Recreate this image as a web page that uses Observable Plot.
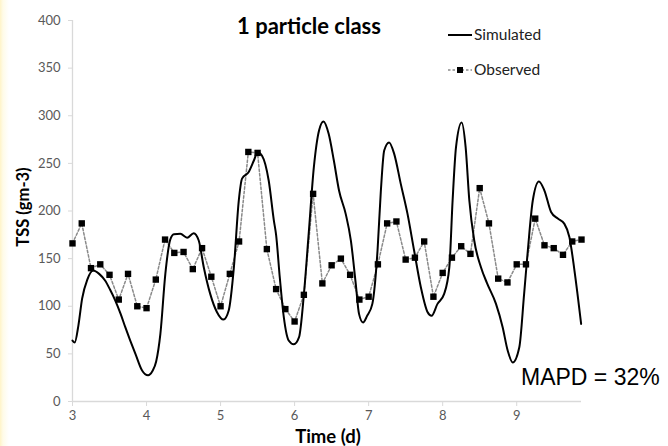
<!DOCTYPE html>
<html>
<head>
<meta charset="utf-8">
<script src="https://cdn.jsdelivr.net/npm/d3@7"></script>
<script src="https://cdn.jsdelivr.net/npm/@observablehq/plot@0.6"></script>
<style>
  html, body { margin: 0; padding: 0; }
  body {
    width: 668px; height: 446px; overflow: hidden;
    background: linear-gradient(to right, #fff4c8 0px, #fffbe8 3px, #ffffff 9px);
  }
  #chart { position: relative; width: 668px; height: 446px; }
  #chart svg { position: absolute; left: 0; top: 0; background: transparent; }
</style>
</head>
<body>
<div id="chart"></div>
<script>
// ---- data ----
const observedTime = [3.0,3.125,3.25,3.375,3.5,3.625,3.75,3.875,4.0,4.125,4.25,4.375,4.5,4.625,4.75,4.875,
  5.0,5.125,5.25,5.375,5.5,5.625,5.75,5.875,6.0,6.125,6.25,6.375,6.5,6.625,6.75,6.875,
  7.0,7.125,7.25,7.375,7.5,7.625,7.75,7.875,8.0,8.125,8.25,8.375,8.5,8.625,8.75,8.875,
  9.0,9.125,9.25,9.375,9.5,9.625,9.75,9.875];
const observedTSS = [166,187,140,144,133,107,134,100,98,128,170,156,157,139,161,131,
  100,134,168,262,261,160,118,97,84,112,218,124,143,150,133,107,
  110,144,187,189,149,151,168,110,135,151,163,155,224,187,129,125,
  144,144,192,164,161,154,168,170];

const simulatedTime = [3.0,3.03,3.08,3.13,3.2,3.28,3.36,3.44,3.51,3.578,3.65,3.713,3.78,3.85,3.94,4.02,4.08,4.13,4.187,4.254,
  4.32,4.37,4.457,4.548,4.637,4.705,4.773,4.86,4.95,5.04,5.11,5.18,5.246,5.29,5.38,5.45,5.5,5.56,5.65,5.72,
  5.75,5.8,5.855,5.92,5.99,6.06,6.126,6.19,6.26,6.33,6.39,6.46,6.53,6.6,6.69,6.76,6.826,6.87,6.924,6.98,
  7.05,7.12,7.164,7.21,7.276,7.345,7.434,7.525,7.614,7.705,7.795,7.85,7.93,8.02,8.09,8.134,8.18,8.256,8.31,8.36,
  8.426,8.517,8.6,8.72,8.81,8.878,8.946,9.035,9.1,9.15,9.217,9.3,9.374,9.464,9.555,9.644,9.712,9.78,9.87];
const simulatedTSS = [64,62,80,108,128,137.5,134,127,117,106,92,78,64,50,32.5,27.5,32,42,71,134,
  170,175.5,176,172,176.7,169,141,113,94,86,95.5,141,211,234,241,253,261.7,258,232,190,
  175,130,88,64,60,67.5,113,176,246,284.5,294,281,253,221.5,197,169,123.5,92,83,90,
  102.5,158.5,220,263.5,272,260,228.5,197,158.5,120,94,90,102.5,113,141,211,267,293,267,211,
  169,141,124,102.5,78,53.5,41,57,113,158.5,211,231,221.5,199,192,186.5,172.5,137.5,81.5];

const xTicks = [3,4,5,6,7,8,9];
const yTicks = [0,50,100,150,200,250,300,350,400];
const titleText = "1 particle class";
const xLabel = "Time (d)";
const yLabel = "TSS (gm-3)";
const legendItems = ["Simulated", "Observed"];
const annotation = "MAPD = 32%";

// ---- build ----
const observed = observedTime.map((t, i) => ({t, v: observedTSS[i]}));
const simulated = simulatedTime.map((t, i) => ({t, v: simulatedTSS[i]}));

const tickFont = "Lato, 'Open Sans', sans-serif";

const plot = Plot.plot({
  width: 668,
  height: 446,
  marginLeft: 72,
  marginRight: 87,
  marginTop: 20,
  marginBottom: 45,
  style: {fontFamily: tickFont, fontSize: "13px", color: "#595959", background: "transparent", overflow: "visible"},
  x: {domain: [3, 9.875], ticks: xTicks, tickSize: 5, tickPadding: 4, label: null, tickFormat: d3.format("d")},
  y: {domain: [0, 400], ticks: yTicks, tickSize: 4, tickPadding: 8, label: null},
  marks: [
    Plot.ruleX([3], {stroke: "#d9d9d9", strokeWidth: 1.3}),
    Plot.ruleY([0], {stroke: "#d9d9d9", strokeWidth: 1.3}),
    Plot.axisX({ticks: xTicks, tickSize: 5, tickPadding: 4, stroke: "#d9d9d9", fill: "#595959", fontSize: 13, tickFormat: d3.format("d"), label: null}),
    Plot.axisY({ticks: yTicks, tickSize: 4, tickPadding: 8, stroke: "#d9d9d9", fill: "#595959", fontSize: 13, label: null}),
    Plot.line(observed, {x: "t", y: "v", stroke: "#8a8a8a", strokeWidth: 1.5, strokeDasharray: "2.5,2"}),
    Plot.dot(observed, {x: "t", y: "v", symbol: "square", r: 3.6, fill: "#000", stroke: "none"}),
    Plot.line(simulated, {x: "t", y: "v", stroke: "#000", strokeWidth: 2, curve: "monotone-x"})
  ]
});
document.getElementById("chart").appendChild(plot);

// ---- text overlays in SVG ----
const svg = d3.select(plot);
svg.append("text").attr("x", 309).attr("y", 34).attr("text-anchor", "middle")
  .attr("font-family", tickFont).attr("font-weight", "bold").attr("font-size", 22).attr("fill", "#000")
  .text(titleText);
svg.append("text").attr("x", 328).attr("y", 443).attr("text-anchor", "middle")
  .attr("font-family", tickFont).attr("font-weight", "bold").attr("font-size", 18.5).attr("fill", "#000")
  .text(xLabel);
svg.append("text").attr("transform", "translate(29,207) rotate(-90)").attr("text-anchor", "middle")
  .attr("font-family", tickFont).attr("font-weight", "bold").attr("font-size", 16.5).attr("fill", "#000")
  .text(yLabel);

// legend
const lg = svg.append("g").attr("text-anchor", "start");
lg.append("line").attr("x1", 448).attr("x2", 472).attr("y1", 35).attr("y2", 35).attr("stroke", "#000").attr("stroke-width", 2);
lg.append("text").attr("x", 474).attr("y", 40).attr("text-anchor", "start").attr("font-family", tickFont).attr("font-size", 15.5).attr("fill", "#222").text(legendItems[0]);
lg.append("line").attr("x1", 448).attr("x2", 472).attr("y1", 70).attr("y2", 70).attr("stroke", "#8a8a8a").attr("stroke-width", 1.5).attr("stroke-dasharray", "2.5,2");
lg.append("rect").attr("x", 457).attr("y", 67).attr("width", 6).attr("height", 6).attr("fill", "#000");
lg.append("text").attr("x", 474).attr("y", 75).attr("text-anchor", "start").attr("font-family", tickFont).attr("font-size", 15.5).attr("fill", "#222").text(legendItems[1]);

svg.append("text").attr("x", 521).attr("y", 385).attr("text-anchor", "start")
  .attr("font-family", "'Liberation Sans', Arial, sans-serif").attr("font-size", 23).attr("fill", "#000")
  .text(annotation);
</script>
</body>
</html>
